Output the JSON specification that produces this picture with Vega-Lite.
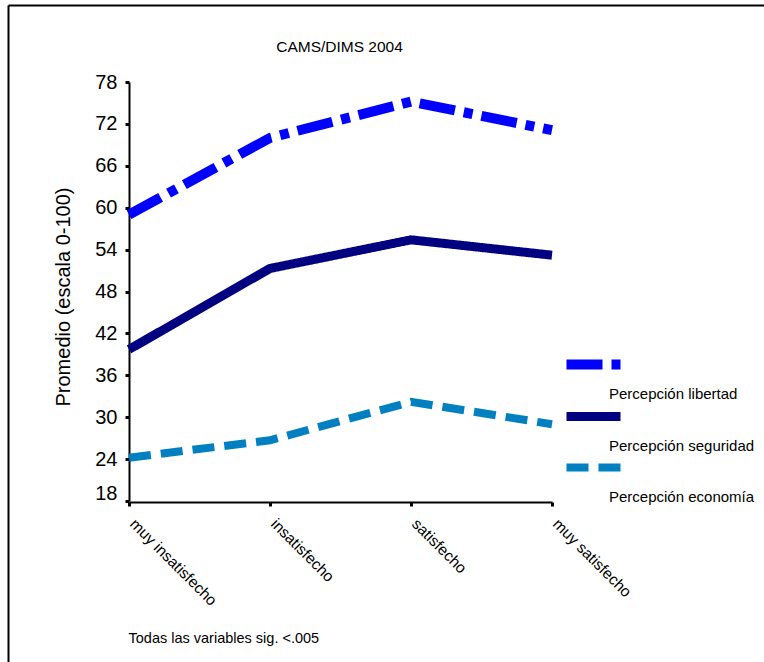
{
  "$schema": "https://vega.github.io/schema/vega-lite/v6.json",
  "width": 756,
  "height": 657,
  "padding": {"left": 8, "top": 5, "right": 0, "bottom": 0},
  "autosize": {"type": "none"},
  "background": "white",
  "config": {"font": "Liberation Sans", "view": {"stroke": null}, "axis": {"grid": false}},
  "data": {
    "values": [
      {"cat": "muy insatisfecho", "serie": "Percepción libertad", "value": 59.0},
      {"cat": "insatisfecho", "serie": "Percepción libertad", "value": 70.0},
      {"cat": "satisfecho", "serie": "Percepción libertad", "value": 75.2},
      {"cat": "muy satisfecho", "serie": "Percepción libertad", "value": 71.1},
      {"cat": "muy insatisfecho", "serie": "Percepción seguridad", "value": 39.7},
      {"cat": "insatisfecho", "serie": "Percepción seguridad", "value": 51.3},
      {"cat": "satisfecho", "serie": "Percepción seguridad", "value": 55.4},
      {"cat": "muy satisfecho", "serie": "Percepción seguridad", "value": 53.2},
      {"cat": "muy insatisfecho", "serie": "Percepción economía", "value": 24.2},
      {"cat": "insatisfecho", "serie": "Percepción economía", "value": 26.7},
      {"cat": "satisfecho", "serie": "Percepción economía", "value": 32.2},
      {"cat": "muy satisfecho", "serie": "Percepción economía", "value": 29.0}
    ]
  },
  "layer": [
    {
      "mark": {"type": "point", "opacity": 0},
      "encoding": {
        "x": {
          "field": "value", "type": "quantitative",
          "axis": {
            "orient": "top", "labels": false, "ticks": false, "grid": false,
            "domainColor": "black", "domainWidth": 2,
            "title": "CAMS/DIMS 2004", "titleX": 331, "titleY": 41,
            "titleAlign": "center", "titleBaseline": "middle",
            "titleFontSize": 15.5, "titleFontWeight": "normal", "titleColor": "black"
          }
        },
        "y": {
          "field": "value", "type": "quantitative",
          "axis": {
            "orient": "left", "labels": false, "ticks": false, "grid": false,
            "domainColor": "black", "domainWidth": 2, "title": null
          }
        }
      }
    },
    {
      "mark": {"type": "line", "strokeCap": "butt", "strokeJoin": "miter"},
      "encoding": {
        "x": {
          "field": "cat", "type": "ordinal",
          "sort": ["muy insatisfecho", "insatisfecho", "satisfecho", "muy satisfecho"],
          "scale": {"type": "point", "range": [121, 544], "padding": 0},
          "axis": {
            "orient": "bottom", "offset": -160,
            "domainColor": "black", "domainWidth": 2,
            "tickColor": "black", "tickWidth": 3, "tickSize": 4,
            "labelAngle": 45, "labelAlign": "left", "labelBaseline": "top",
            "labelPadding": 10, "labelOffset": 8, "labelFontSize": 15.5, "labelColor": "black",
            "title": "Todas las variables sig. <.005",
            "titleX": 120, "titleY": 136, "titleAlign": "left", "titleBaseline": "middle",
            "titleFontSize": 14.5, "titleFontWeight": "normal", "titleColor": "black"
          }
        },
        "y": {
          "field": "value", "type": "quantitative",
          "scale": {"domain": [18, 78], "range": [496, 77], "nice": false, "zero": false},
          "axis": {
            "orient": "left", "offset": -121,
            "values": [18, 24, 30, 36, 42, 48, 54, 60, 66, 72, 78],
            "domainColor": "black", "domainWidth": 2,
            "tickColor": "black", "tickWidth": 3, "tickSize": 4,
            "labelFontSize": 20, "labelColor": "black", "labelPadding": 8,
            "labelOffset": {"condition": {"test": "datum.value === 18", "value": -8}, "value": 0},
            "title": "Promedio (escala 0-100)",
            "titleX": -66, "titleY": 291.5, "titleAlign": "center", "titleBaseline": "middle",
            "titleFontSize": 20, "titleFontWeight": "normal", "titleColor": "black"
          }
        },
        "color": {
          "field": "serie", "type": "nominal",
          "scale": {
            "domain": ["Percepción libertad", "Percepción seguridad", "Percepción economía"],
            "range": ["#0000FF", "#000080", "#0080C0"]
          },
          "legend": {
            "orient": "none", "legendX": 577, "legendY": 351, "title": null,
            "symbolType": "M-8,0H8", "symbolSize": 45.5625, "symbolStrokeWidth": 11,
            "labelFontSize": 15, "labelColor": "black", "labelOffset": 7,
            "rowPadding": -3.5, "padding": 0,
            "encode": {
              "labels": {"update": {"dy": {"value": 29.5}}}
            }
          }
        },
        "strokeDash": {
          "field": "serie", "type": "nominal",
          "scale": {
            "domain": ["Percepción libertad", "Percepción seguridad", "Percepción economía"],
            "range": [[36, 9, 9, 9], [1, 0], [22, 10]]
          }
        },
        "strokeWidth": {
          "field": "serie", "type": "nominal",
          "scale": {
            "domain": ["Percepción libertad", "Percepción seguridad", "Percepción economía"],
            "range": [10, 8, 10]
          },
          "legend": null
        }
      }
    }
  ],
  "resolve": {
    "scale": {"x": "independent", "y": "independent"},
    "axis": {"x": "independent", "y": "independent"}
  }
}
